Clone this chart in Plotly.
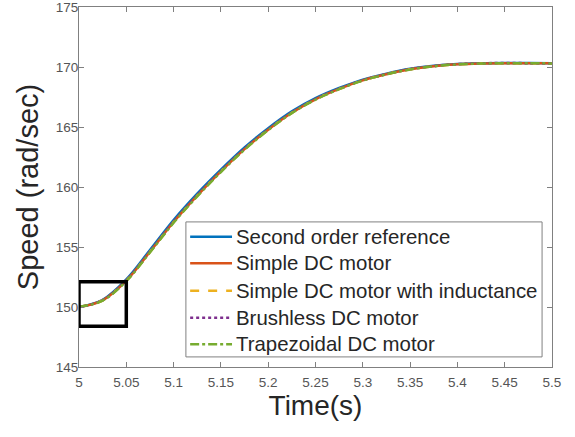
import plotly.graph_objects as go

# Speed response of each motor model, sampled every 25 ms
time_s = [5.000, 5.025, 5.050, 5.075, 5.100, 5.125, 5.150, 5.175, 5.200, 5.225, 5.250,
          5.275, 5.300, 5.325, 5.350, 5.375, 5.400, 5.425, 5.450, 5.475, 5.500]

second_order_ref = [150.00, 150.60, 152.30, 154.75, 157.25, 159.45, 161.45, 163.30, 164.90, 166.30, 167.40,
                    168.25, 168.95, 169.45, 169.85, 170.10, 170.25, 170.31, 170.33, 170.33, 170.32]
simple_dc = [150.00, 150.56, 152.20, 154.60, 157.08, 159.28, 161.30, 163.16, 164.78, 166.19, 167.31,
             168.17, 168.89, 169.40, 169.81, 170.07, 170.23, 170.30, 170.32, 170.32, 170.31]
simple_dc_ind = [150.00, 150.55, 152.18, 154.58, 157.06, 159.26, 161.28, 163.14, 164.76, 166.18, 167.30,
                 168.16, 168.88, 169.40, 169.81, 170.07, 170.23, 170.30, 170.32, 170.32, 170.31]
brushless_dc = [150.00, 150.57, 152.22, 154.63, 157.11, 159.31, 161.33, 163.19, 164.80, 166.21, 167.33,
                168.19, 168.90, 169.41, 169.82, 170.08, 170.24, 170.31, 170.33, 170.32, 170.31]
trapezoidal_dc = [150.00, 150.54, 152.16, 154.55, 157.02, 159.22, 161.25, 163.11, 164.74, 166.16, 167.28,
                  168.15, 168.87, 169.39, 169.80, 170.06, 170.22, 170.29, 170.31, 170.31, 170.30]

series_names = ["Second order reference", "Simple DC motor", "Simple DC motor with inductance",
                "Brushless DC motor", "Trapezoidal DC motor"]
series_values = [second_order_ref, simple_dc, simple_dc_ind, brushless_dc, trapezoidal_dc]
series_colors = ["#0072BD", "#D95319", "#EDB120", "#7E2F8E", "#77AC30"]
series_dash = ["solid", "solid", "dash", "dot", "dashdot"]

x_ticks = [5.0, 5.05, 5.1, 5.15, 5.2, 5.25, 5.3, 5.35, 5.4, 5.45, 5.5]
x_tick_text = ["5", "5.05", "5.1", "5.15", "5.2", "5.25", "5.3", "5.35", "5.4", "5.45", "5.5"]
y_ticks = [145, 150, 155, 160, 165, 170, 175]

# zoom window marked on the start of the response
zoom_t = (5.0, 5.05)
zoom_v = (148.4, 152.1)

FONT = "Liberation Sans"
TEXT_COLOR = "#262626"
AXIS_COLOR = "#808080"

fig = go.Figure()
for name, vals, col, dash in zip(series_names, series_values, series_colors, series_dash):
    fig.add_trace(go.Scatter(
        x=time_s, y=vals, name=name, mode="lines", showlegend=False,
        line=dict(color=col, width=2.5, dash=dash, shape="spline", smoothing=1.0),
    ))

fig.add_shape(type="rect", xref="x", yref="y",
              x0=zoom_t[0], x1=zoom_t[1], y0=zoom_v[0], y1=zoom_v[1],
              line=dict(color="black", width=3.5))

# Legend box drawn in paper coordinates (MATLAB-style, inside lower right)
leg_x0, leg_x1, leg_y0, leg_y1 = 0.226, 0.979, 0.028, 0.403
row_y = [0.362, 0.288, 0.212, 0.137, 0.063]
sample_x0, sample_x1, text_x = 0.235, 0.3235, 0.328

fig.add_shape(type="rect", xref="paper", yref="paper",
              x0=leg_x0, x1=leg_x1, y0=leg_y0, y1=leg_y1,
              fillcolor="white", line=dict(color=AXIS_COLOR, width=1), layer="above")
for name, col, dash, yy in zip(series_names, series_colors, series_dash, row_y):
    fig.add_shape(type="line", xref="paper", yref="paper",
                  x0=sample_x0, x1=sample_x1, y0=yy, y1=yy,
                  line=dict(color=col, width=2.5, dash=dash), layer="above")
    fig.add_annotation(xref="paper", yref="paper", x=text_x, y=yy,
                       xanchor="left", yanchor="middle", text=name, showarrow=False,
                       font=dict(family=FONT, size=20.4, color=TEXT_COLOR))

axis_common = dict(
    showgrid=False, zeroline=False, showline=True, linecolor=AXIS_COLOR, linewidth=1,
    mirror="ticks", ticks="inside", ticklen=5, tickcolor=AXIS_COLOR,
    tickfont=dict(family=FONT, size=13.5, color="#555555"),
    ticklabeloverflow="allow", automargin=False,
)

fig.update_xaxes(range=[5.0, 5.5], tickvals=x_ticks, ticktext=x_tick_text,
                 ticklabelstandoff=3,
                 title=dict(text="Time(s)", font=dict(family=FONT, size=28, color=TEXT_COLOR),
                            standoff=6),
                 **axis_common)
fig.update_yaxes(range=[145, 175], tickvals=y_ticks,
                 ticklabelstandoff=-3,
                 title=dict(text="Speed (rad/sec)", font=dict(family=FONT, size=29, color=TEXT_COLOR),
                            standoff=8),
                 **axis_common)

fig.update_layout(
    width=575, height=437,
    margin=dict(l=79, r=23, t=7, b=70),
    paper_bgcolor="white", plot_bgcolor="white",
    showlegend=False,
)

fig.write_html("out.html")
